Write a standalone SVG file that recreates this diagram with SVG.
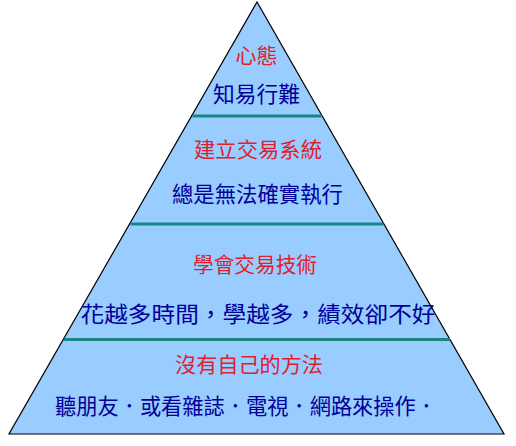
<svg xmlns="http://www.w3.org/2000/svg" width="516" height="446" viewBox="0 0 516 446">
<defs>
<style>
.tri{fill:#99ccff;stroke:#000000;stroke-width:1.2}
.sep{stroke:#1a8585;stroke-width:3.2;fill:none}
text{font-family:"Noto Sans CJK TC","Noto Sans CJK SC",sans-serif;text-anchor:middle}
.r{fill:#e0202a;font-size:21px}
.b{fill:#000099;font-size:22px}
</style>
</defs>
<rect width="516" height="446" fill="#ffffff"/>
<g id="pyramid">
<polygon class="tri" points="257,2 9,434 504,434"/>
</g>
<g id="connectors">
<line class="sep" x1="192.5" y1="116" x2="321.5" y2="116"/>
<line class="sep" x1="130.5" y1="224" x2="383.5" y2="224"/>
<line class="sep" x1="64" y1="339.5" x2="450" y2="339.5"/>
</g>
<g id="tier1">
<text class="r" x="256.5" y="63">心態</text>
<text class="b" x="256.5" y="102" textLength="87" lengthAdjust="spacingAndGlyphs">知易行難</text>
</g>
<g id="tier2">
<text class="r" x="258" y="157" textLength="128" lengthAdjust="spacingAndGlyphs">建立交易系統</text>
<text class="b" x="257.5" y="202" textLength="171" lengthAdjust="spacingAndGlyphs">總是無法確實執行</text>
</g>
<g id="tier3">
<text class="r" x="255" y="272" textLength="124" lengthAdjust="spacingAndGlyphs">學會交易技術</text>
<text class="b" x="258" y="322" textLength="355" lengthAdjust="spacingAndGlyphs">花越多時間，學越多，績效卻不好</text>
</g>
<g id="tier4">
<text class="r" x="249" y="372" textLength="148" lengthAdjust="spacingAndGlyphs">沒有自己的方法</text>
<text class="b" x="246" y="414" textLength="382" lengthAdjust="spacingAndGlyphs">聽朋友．或看雜誌．電視．網路來操作．</text>
</g>
</svg>
